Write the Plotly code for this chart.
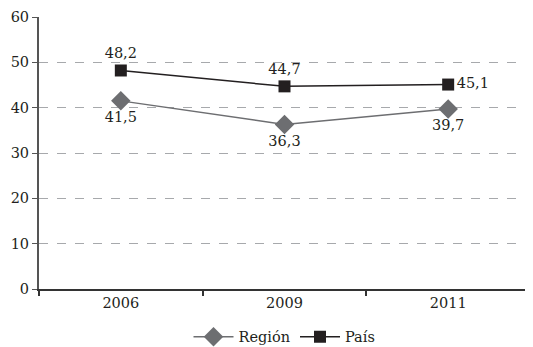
import plotly.graph_objects as go

years = ["2006", "2009", "2011"]
region = [41.5, 36.3, 39.7]
pais = [48.2, 44.7, 45.1]
region_labels = ["41,5", "36,3", "39,7"]
pais_labels = ["48,2", "44,7", "45,1"]
y_ticks = [0, 10, 20, 30, 40, 50, 60]

font = dict(family="DejaVu Serif", size=14.5, color="#231f20")

fig = go.Figure()
fig.add_trace(go.Scatter(
    x=years, y=region, name="Región", mode="lines+markers+text",
    line=dict(color="#6d6e71", width=1.5),
    marker=dict(symbol="diamond", size=15, color="#6d6e71"),
    text=region_labels, textposition="bottom center", textfont=font,
))
fig.add_trace(go.Scatter(
    x=years, y=pais, name="País", mode="lines+markers+text",
    line=dict(color="#231f20", width=1.5),
    marker=dict(symbol="square", size=12, color="#231f20"),
    text=pais_labels, textposition=["top center", "top center", "middle right"], textfont=font,
))

fig.update_layout(
    width=525, height=339,
    margin=dict(l=31, r=3, t=9, b=58, autoexpand=False),
    paper_bgcolor="white", plot_bgcolor="white",
    font=font,
    showlegend=True,
    legend=dict(orientation="h", x=0.5, xanchor="center", y=0.03, yanchor="middle",
                yref="container", font=font, itemwidth=40, traceorder="normal"),
    xaxis=dict(type="category", range=[-0.5, 2.5], tickson="boundaries",
               ticks="outside", ticklen=5, tickcolor="#333", tickwidth=1.5,
               showline=True, linecolor="#333", linewidth=1.5,
               showgrid=False, tickfont=font),
    yaxis=dict(range=[0, 60], tickvals=y_ticks, ticks="outside", ticklen=5,
               tickcolor="#555", showline=True, linecolor="#555", linewidth=2,
               showgrid=True, gridcolor="#a7a9ac", griddash="dash", gridwidth=1,
               zeroline=False, tickfont=font, ticklabeloverflow="allow"),
)

fig.write_html("out.html")
